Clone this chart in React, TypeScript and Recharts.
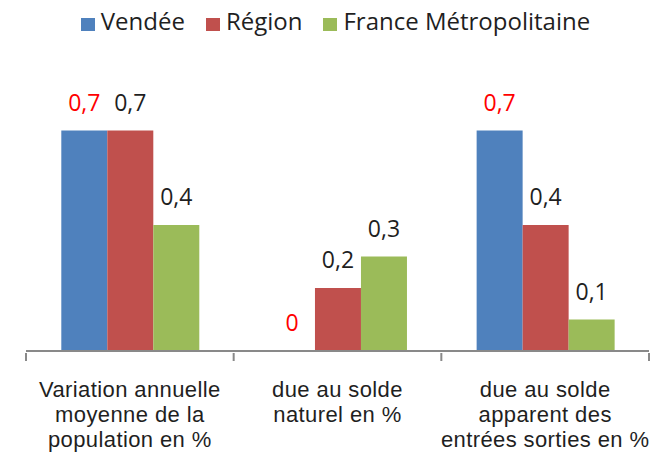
import React from "react";
import { BarChart, Bar, XAxis, YAxis, Legend, LabelList } from "recharts";

const categories = [
  "Variation annuelle moyenne de la population en %",
  "due au solde naturel en %",
  "due au solde apparent des entrées sorties en %",
];
const categoryLines = [
  ["Variation annuelle", "moyenne de la", "population en %"],
  ["due au solde", "naturel en %"],
  ["due au solde", "apparent des", "entrées sorties en %"],
];
const vendee = [0.7, 0, 0.7];
const region = [0.7, 0.2, 0.4];
const france = [0.4, 0.3, 0.1];

const seriesNames = ["Vendée", "Région", "France Métropolitaine"];
const seriesKeys = ["vendee", "region", "france"];
const seriesColors = ["#4F81BD", "#C0504D", "#9BBB59"];
const labelColors = ["#FF0000", "#1f1f1f", "#1f1f1f"];

const data = categories.map((c, i) => ({
  name: c,
  vendee: vendee[i],
  region: region[i],
  france: france[i],
}));

const FONT = "'Open Sans', sans-serif";
const AXIS_COLOR = "#898989";

const fmt = (v: number) => String(v).replace(".", ",");

const makeLabel = (color: string) => (props: any) => {
  const { x, y, width, height, value } = props;
  if (value === undefined || value === null) return null;
  const top = Math.min(Number(y), Number(y) + Number(height || 0));
  return (
    <text
      x={Number(x) + Number(width) / 2}
      y={top - 20}
      textAnchor="middle"
      fill={color}
      fontSize={23}
      fontFamily={FONT}
    >
      {fmt(Number(value))}
    </text>
  );
};

// keep zero-valued bars in the layout (invisible sliver) so their "0" label is drawn
const zeroKeeper = (value: any) => (Number(value) === 0 ? 0.001 : 0);

const CategoryTick = (props: any) => {
  const { x, y, payload, index, visibleTicksCount } = props;
  const off = payload && payload.offset ? payload.offset : 0;
  const lines = categoryLines[index] || [];
  const isLast = index === (visibleTicksCount ?? categories.length) - 1;
  return (
    <g>
      <line x1={x - off} x2={x - off} y1={y} y2={y + 8} stroke={AXIS_COLOR} strokeWidth={2} />
      {isLast && (
        <line x1={x + off} x2={x + off} y1={y} y2={y + 8} stroke={AXIS_COLOR} strokeWidth={2} />
      )}
      <text
        x={x}
        y={y + 44}
        textAnchor="middle"
        fill="#1f1f1f"
        fontSize={22}
        letterSpacing={0.4}
        fontFamily="'Liberation Sans', Arial, sans-serif"
      >
        {lines.map((l, k) => (
          <tspan key={k} x={x} dy={k === 0 ? 0 : 25}>
            {l}
          </tspan>
        ))}
      </text>
    </g>
  );
};

const LegendContent = () => (
  <div
    style={{
      height: 40,
      lineHeight: "26px",
      fontSize: 24,
      fontFamily: FONT,
      color: "#1f1f1f",
      textAlign: "center",
      whiteSpace: "nowrap",
    }}
  >
    {seriesNames.map((n, i) => (
      <span key={n} style={{ marginRight: i < seriesNames.length - 1 ? 21 : 0 }}>
        <span
          style={{
            display: "inline-block",
            width: 14,
            height: 13,
            background: seriesColors[i],
            marginRight: 6,
            verticalAlign: "-1px",
          }}
        />
        {n}
      </span>
    ))}
  </div>
);

export default function App() {
  return (
    <BarChart
      width={655}
      height={450}
      data={data}
      margin={{ top: 51, right: 14, bottom: 7, left: 18 }}
      barCategoryGap="17%"
      barGap={0}
    >
      <Legend
        verticalAlign="top"
        align="center"
        content={<LegendContent />}
        wrapperStyle={{ top: 0, left: 0, width: 655, height: 40 }}
      />
      <XAxis
        dataKey="name"
        height={100}
        interval={0}
        tickSize={0}
        tickLine={false}
        axisLine={{ stroke: AXIS_COLOR, strokeWidth: 2 }}
        tick={<CategoryTick />}
      />
      <YAxis hide domain={[0, 0.8]} />
      {seriesKeys.map((k, i) => (
        <Bar
          key={k}
          dataKey={k}
          name={seriesNames[i]}
          fill={seriesColors[i]}
          isAnimationActive={false}
          minPointSize={zeroKeeper}
        >
          <LabelList dataKey={k} content={makeLabel(labelColors[i])} />
        </Bar>
      ))}
    </BarChart>
  );
}
